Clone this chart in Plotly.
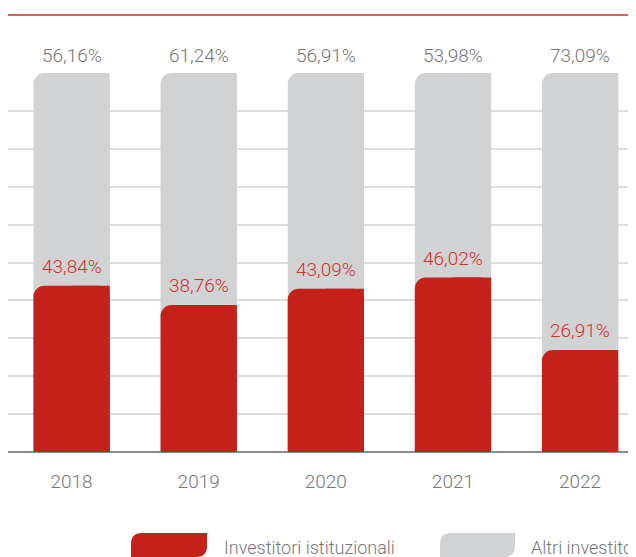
import plotly.graph_objects as go

years = ["2018", "2019", "2020", "2021", "2022"]
istituzionali = [43.84, 38.76, 43.09, 46.02, 26.91]
altri = [56.16, 61.24, 56.91, 53.98, 73.09]
series_names = ["Investitori istituzionali", "Altri investitori"]

RED = "#c4211b"
GRAY = "#d1d2d4"
TXT_GRAY = "#767676"
TXT_RED = "#d2312c"
FONT = "Roboto, Liberation Sans Narrow, sans-serif"

OFF = 8  # page body margin
W, H = 628, 549
ML, MR, MT, MB = 0, 0, 65, 105
PW = W - ML - MR
PH = H - MT - MB

def px_x(px):
    return (px - OFF - ML) / PW

def px_y(py):
    return (H - MB - (py - OFF)) / PH

x_idx = list(range(len(years)))
totals = [a + b for a, b in zip(istituzionali, altri)]
BW = 0.6
CR = 11
XR = [-0.5, 4.44]

fig = go.Figure()
# each layer on its own overlaid x axis so corner rounding applies independently
fig.add_trace(go.Bar(x=x_idx, y=totals, width=BW, offset=-BW / 2, xaxis="x",
                     marker=dict(color=GRAY, cornerradius=CR, line=dict(width=0)),
                     hoverinfo="skip", showlegend=False))
fig.add_trace(go.Bar(x=x_idx, y=totals, width=BW / 2, offset=0, xaxis="x2",
                     marker=dict(color=GRAY, line=dict(width=0)),
                     hoverinfo="skip", showlegend=False))
fig.add_trace(go.Bar(x=x_idx, y=istituzionali, width=BW, offset=-BW / 2, xaxis="x3",
                     marker=dict(color=RED, cornerradius=CR, line=dict(width=0)),
                     hoverinfo="skip", showlegend=False))
fig.add_trace(go.Bar(x=x_idx, y=istituzionali, width=BW / 2, offset=0, xaxis="x4",
                     marker=dict(color=RED, line=dict(width=0)),
                     hoverinfo="skip", showlegend=False))

def fmt(v):
    return f"{v:.2f}".replace(".", ",") + "%"

LBL = dict(family=FONT, size=19, weight=300)

annotations = []
for i, (a, b, t) in enumerate(zip(istituzionali, altri, totals)):
    annotations.append(dict(x=i, y=t, xref="x", yref="y", text=fmt(b), showarrow=False,
                            yanchor="bottom", yshift=4,
                            font=dict(**LBL, color=TXT_GRAY)))
    annotations.append(dict(x=i, y=a, xref="x", yref="y", text=fmt(a), showarrow=False,
                            yanchor="bottom", yshift=6,
                            font=dict(**LBL, color=TXT_RED)))

def swatch(x0, x1, y0, y1, r):
    pts = [
        ("M", x0, y1),
        ("L", x0, y0 + r),
        ("Q", x0, y0, x0 + r, y0),
        ("L", x1, y0),
        ("L", x1, y1 - r),
        ("Q", x1, y1, x1 - r, y1),
    ]
    s = ""
    for p in pts:
        if p[0] == "Q":
            s += f"Q{px_x(p[1])},{px_y(p[2])} {px_x(p[3])},{px_y(p[4])} "
        else:
            s += f"{p[0]}{px_x(p[1])},{px_y(p[2])} "
    return s + "Z"

shapes = [
    dict(type="line", xref="paper", yref="paper", x0=0, x1=1, y0=px_y(15), y1=px_y(15),
         line=dict(color="#d9605c", width=2)),
    dict(type="path", xref="paper", yref="paper", path=swatch(131, 207, 533, 557, 11),
         fillcolor=RED, line=dict(width=0)),
    dict(type="path", xref="paper", yref="paper", path=swatch(440, 515, 533, 557, 11),
         fillcolor=GRAY, line=dict(width=0)),
]
LEG = dict(family=FONT, size=18, weight=300, color=TXT_GRAY)
annotations.append(dict(x=px_x(222), y=px_y(547), xref="paper", yref="paper", text=series_names[0],
                        showarrow=False, xanchor="left", yanchor="middle", font=LEG))
annotations.append(dict(x=px_x(529), y=px_y(547), xref="paper", yref="paper", text=series_names[1],
                        showarrow=False, xanchor="left", yanchor="middle", font=LEG))

hidden_x = dict(range=XR, overlaying="x", visible=False, fixedrange=True)

fig.update_layout(
    width=W, height=H,
    margin=dict(l=ML, r=MR, t=MT, b=MB, pad=0),
    barmode="overlay",
    plot_bgcolor="white", paper_bgcolor="white",
    showlegend=False,
    shapes=shapes,
    annotations=annotations,
    xaxis=dict(range=XR, tickmode="array", tickvals=x_idx, ticktext=years,
               showgrid=False, zeroline=False, showline=False,
               ticks="outside", ticklen=12, tickcolor="rgba(0,0,0,0)",
               tickfont=dict(**LBL, color=TXT_GRAY), fixedrange=True),
    xaxis2=hidden_x, xaxis3=hidden_x, xaxis4=hidden_x,
    yaxis=dict(range=[0, 100], dtick=10, showticklabels=False, showgrid=True,
               gridcolor="#dcdcdc", gridwidth=1.5, zeroline=True, zerolinecolor="#8c8c8c",
               zerolinewidth=1.5, showline=False, fixedrange=True),
)

fig.write_html("out.html")
